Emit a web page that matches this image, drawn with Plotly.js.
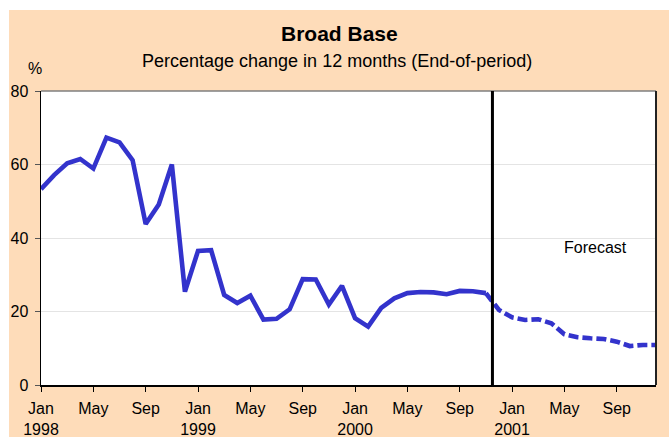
<!DOCTYPE html>
<html>
<head>
<meta charset="utf-8">
<script src="https://cdn.plot.ly/plotly-3.0.1.min.js"></script>
<style>
  html, body { margin: 0; padding: 0; background: #ffffff; }
  #chart { width: 669px; height: 437px; }
</style>
</head>
<body>
<div id="chart"></div>
<script>
// ---- Data ----
const months = [
  '1998-01','1998-02','1998-03','1998-04','1998-05','1998-06','1998-07','1998-08','1998-09','1998-10','1998-11','1998-12',
  '1999-01','1999-02','1999-03','1999-04','1999-05','1999-06','1999-07','1999-08','1999-09','1999-10','1999-11','1999-12',
  '2000-01','2000-02','2000-03','2000-04','2000-05','2000-06','2000-07','2000-08','2000-09','2000-10','2000-11','2000-12',
  '2001-01','2001-02','2001-03','2001-04','2001-05','2001-06','2001-07','2001-08','2001-09','2001-10','2001-11','2001-12'
];

// Actual: Jan 1998 - Nov 2000
const actualValues = [
  53.3, 57.1, 60.3, 61.5, 58.9, 67.3, 66.0, 61.2, 43.8, 49.1, 60.0, 25.4,
  36.5, 36.7, 24.5, 22.3, 24.3, 17.8, 18.0, 20.6, 28.8, 28.7, 21.9, 27.0,
  18.2, 15.9, 21.0, 23.6, 25.0, 25.3, 25.2, 24.7, 25.6, 25.5, 25.0
];

// Forecast: Nov 2000 - Dec 2001
const forecastStart = '2000-11';
const forecastValues = [
  25.0, 20.4, 18.4, 17.7, 17.9, 16.8, 13.8, 13.0, 12.7, 12.5, 11.8, 10.6, 10.9, 10.9
];

// Tick labels
const tickMonths = ['1998-01','1998-05','1998-09','1999-01','1999-05','1999-09',
                    '2000-01','2000-05','2000-09','2001-01','2001-05','2001-09'];
const tickLabels = ['Jan<br>1998','May','Sep','Jan<br>1999','May','Sep',
                    'Jan<br>2000','May','Sep','Jan<br>2001','May','Sep'];

const yTicks = [0, 20, 40, 60, 80];

// Forecast divider sits between these two months
const dividerMonths = ['2000-11', '2000-12'];

// ---- Build ----
const idx = m => months.indexOf(m);
const actualX = actualValues.map((v, i) => i);
const fStart = idx(forecastStart);
const forecastX = forecastValues.map((v, i) => fStart + i);
const dividerX = (idx(dividerMonths[0]) + idx(dividerMonths[1])) / 2;

const lineColor = '#3333CC';
const FONT = 'Liberation Sans, Arial, sans-serif';

const traces = [
  {
    x: actualX, y: actualValues, type: 'scatter', mode: 'lines',
    line: { color: lineColor, width: 4.6 }, hoverinfo: 'skip'
  },
  {
    x: forecastX, y: forecastValues, type: 'scatter', mode: 'lines',
    line: { color: lineColor, width: 4.6, dash: '10px,4px' }, hoverinfo: 'skip'
  }
];

const layout = {
  width: 669, height: 437,
  margin: { l: 41, r: 13, t: 91, b: 52, pad: 0 },
  paper_bgcolor: '#FEDCB9',
  plot_bgcolor: '#FFFFFF',
  showlegend: false,
  font: { family: FONT, size: 15, color: '#000000' },
  xaxis: {
    type: 'linear',
    range: [0, months.length - 1],
    tickmode: 'array',
    tickvals: tickMonths.map(idx),
    ticktext: tickLabels,
    ticks: 'outside', ticklen: 5, tickwidth: 1, tickcolor: '#000000',
    ticklabelstandoff: 3,
    showline: true, linecolor: '#000000', linewidth: 2,
    showgrid: false, zeroline: false,
    tickfont: { family: FONT, size: 16, color: '#000000' },
    fixedrange: true
  },
  yaxis: {
    range: [0, 80],
    tickmode: 'array',
    tickvals: yTicks,
    ticks: 'outside', ticklen: 5, tickwidth: 1, tickcolor: '#555555',
    ticklabelstandoff: 3,
    showline: true, linecolor: '#000000', linewidth: 1.5,
    showgrid: true, gridcolor: '#E4E4E4', gridwidth: 1,
    zeroline: false,
    tickfont: { family: FONT, size: 16, color: '#000000' },
    fixedrange: true
  },
  shapes: [
    // white strip along the top and left of the picture
    { type: 'rect', xref: 'paper', yref: 'paper', x0: -0.1, x1: 1.1, y0: 1.2755, y1: 1.4,
      fillcolor: '#FFFFFF', line: { width: 0 }, layer: 'below' },
    { type: 'rect', xref: 'paper', yref: 'paper', x0: -0.1, x1: -0.052, y0: -0.3, y1: 1.4,
      fillcolor: '#FFFFFF', line: { width: 0 }, layer: 'below' },
    // top and right plot borders
    { type: 'line', xref: 'paper', yref: 'paper', x0: 0, x1: 1, y0: 1, y1: 1,
      line: { color: '#7F7F7F', width: 1.5 } },
    { type: 'line', xref: 'paper', yref: 'paper', x0: 1, x1: 1, y0: 0, y1: 1,
      line: { color: '#222222', width: 2 } },
    // forecast divider
    { type: 'line', xref: 'x', yref: 'paper', x0: dividerX, x1: dividerX, y0: 0, y1: 1,
      line: { color: '#000000', width: 3 } }
  ],
  annotations: [
    { text: '<b>Broad Base</b>', xref: 'paper', yref: 'paper', x: 0.486, y: 1.194,
      xanchor: 'center', yanchor: 'middle', showarrow: false,
      font: { family: FONT, size: 21, color: '#000000' } },
    { text: 'Percentage change in 12 months (End-of-period)', xref: 'paper', yref: 'paper',
      x: 0.481, y: 1.103, xanchor: 'center', yanchor: 'middle', showarrow: false,
      font: { family: FONT, size: 18, color: '#000000' } },
    { text: '%', xref: 'paper', yref: 'paper', x: -0.0098, y: 1.075,
      xanchor: 'center', yanchor: 'middle', showarrow: false,
      font: { family: FONT, size: 16, color: '#000000' } },
    { text: 'Forecast', xref: 'paper', yref: 'paper', x: 0.902, y: 0.469,
      xanchor: 'center', yanchor: 'middle', showarrow: false,
      font: { family: FONT, size: 16, color: '#000000' } }
  ]
};

Plotly.newPlot('chart', traces, layout, { staticPlot: true, displayModeBar: false });
</script>
</body>
</html>
